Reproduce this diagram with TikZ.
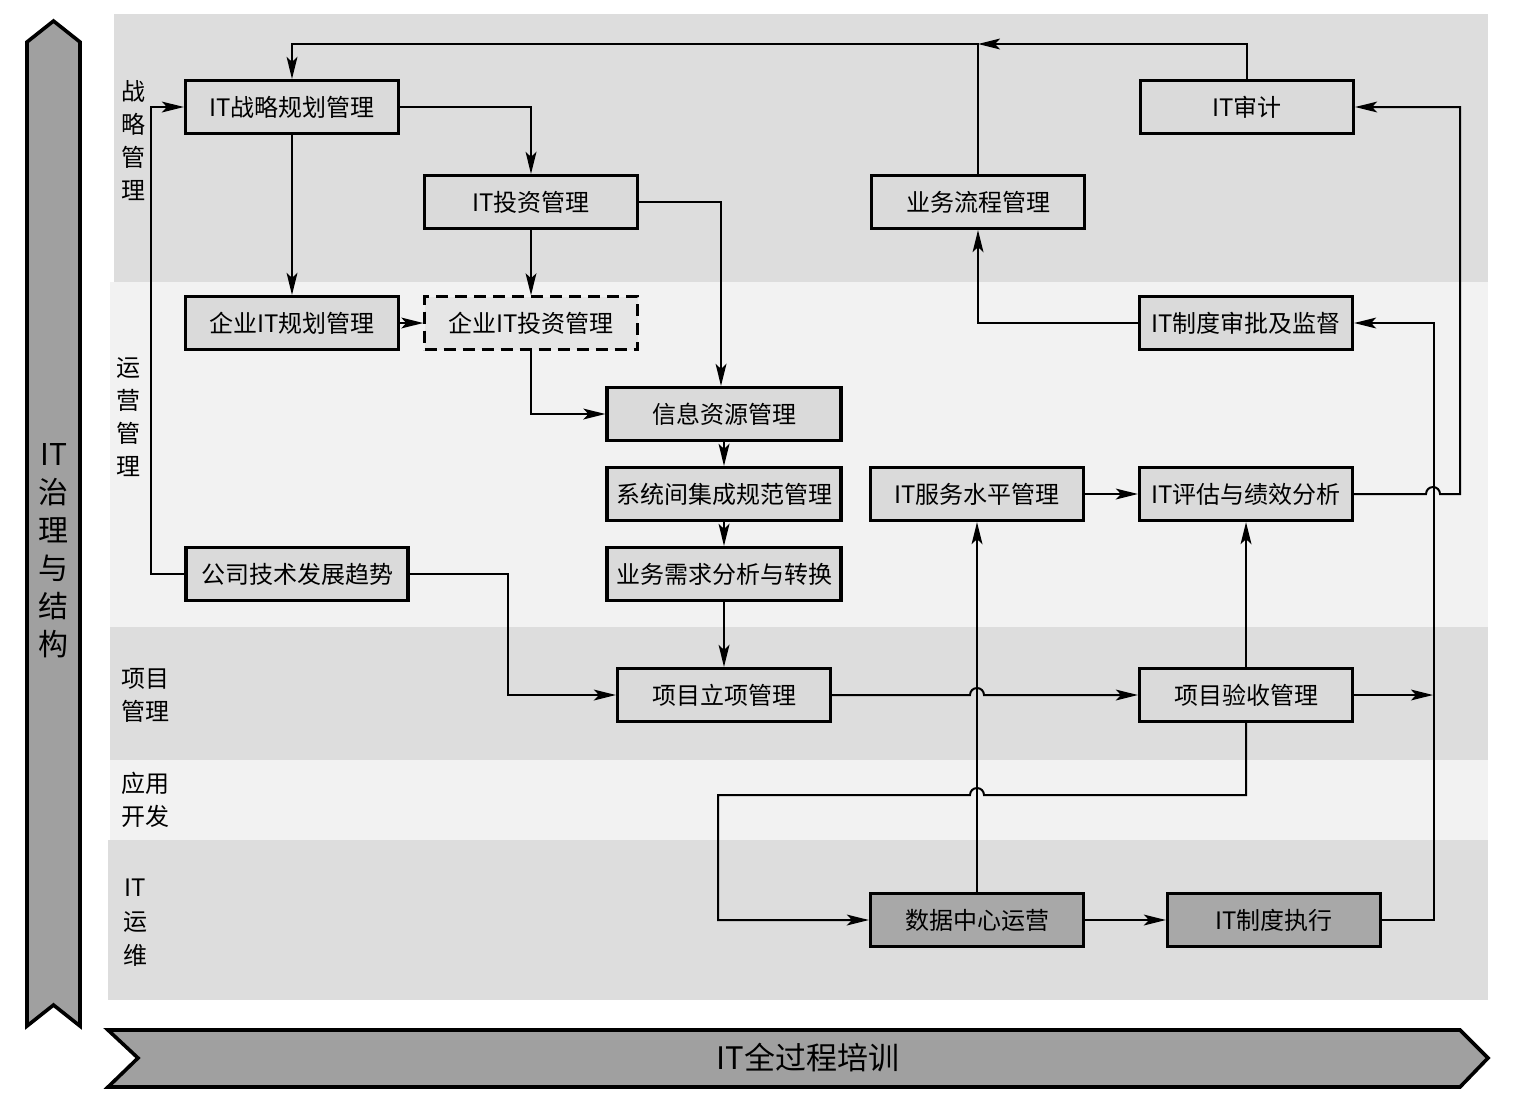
\documentclass[tikz,border=0pt]{standalone}
\usepackage{fontspec}
\setmainfont{Noto Sans CJK SC}
\usetikzlibrary{arrows.meta}

\definecolor{lanedark}{HTML}{DDDDDD}
\definecolor{lanelight}{HTML}{F2F2F2}
\definecolor{boxgray}{HTML}{DADADA}
\definecolor{dashgray}{HTML}{E6E6E6}
\definecolor{opsgray}{HTML}{A8A8A8}
\definecolor{bannergray}{HTML}{A0A0A0}

\begin{document}
\begin{tikzpicture}
	[x=0.5pt,y=-0.5pt,->,>={Stealth[length=11pt,width=5.4pt,inset=2.5pt]},line width=1pt,
		base node/.style={draw,line width=1.6pt,fill=boxgray,minimum width=106.5pt,minimum height=26.5pt,inner sep=0pt,font=\fontsize{12}{14}\selectfont},
		wide node/.style={base node,minimum width=117pt},
		plan node/.style={base node,fill=dashgray,dashed,line width=1.2pt,dash pattern=on 6pt off 3.5pt},
		ops node/.style={base node,fill=opsgray},
		lane label/.style={align=center,inner sep=0pt,font=\fontsize{12}{16.5}\selectfont},
		banner/.style={draw,line width=1.8pt,fill=bannergray}]

	\useasboundingbox (0,0) rectangle (1518,1110);

	% lanes
	\begin{scope}[-]
	\fill[lanedark]  (114,14)  rectangle (1488,282);
	\fill[lanelight] (110,282) rectangle (1488,627);
	\fill[lanedark]  (110,627) rectangle (1488,760);
	\fill[lanelight] (110,760) rectangle (1488,840);
	\fill[lanedark]  (108,840) rectangle (1488,1000);

	\draw[banner] (27,42) -- (53.5,21) -- (80,42) -- (80,1026) -- (53.5,1005) -- (27,1026) -- cycle;
	\draw[banner] (108,1030) -- (1460,1030) -- (1488,1058) -- (1460,1087) -- (108,1087) -- (138,1058) -- cycle;
	\end{scope}

	\node[lane label,font=\fontsize{15}{19}\selectfont] (gov) at (54,551) {IT\\治\\理\\与\\结\\构};
	\node[font=\fontsize{15.5}{18}\selectfont,inner sep=0pt] (train) at (808,1058) {IT全过程培训};

	\node[lane label] (lane1) at (133,141) {战\\略\\管\\理};
	\node[lane label] (lane2) at (128,417) {运\\营\\管\\理};
	\node[lane label] (lane3) at (145,695) {项目\\管理};
	\node[lane label] (lane4) at (145,800) {应用\\开发};
	\node[lane label,font=\fontsize{12}{17}\selectfont] (lane5) at (135,923) {IT\\运\\维};

	\node[base node] (A) at (292,107) {IT战略规划管理};
	\node[base node] (B) at (531,202) {IT投资管理};
	\node[base node] (C) at (292,323) {企业IT规划管理};
	\node[plan node] (D) at (531,323) {企业IT投资管理};
	\node[wide node] (E) at (724,414) {信息资源管理};
	\node[wide node] (F) at (724,494) {系统间集成规范管理};
	\node[wide node] (G) at (724,574) {业务需求分析与转换};
	\node[base node,minimum width=111pt] (H) at (297,574) {公司技术发展趋势};
	\node[base node] (I) at (724,695) {项目立项管理};
	\node[base node] (J) at (978,202) {业务流程管理};
	\node[base node] (K) at (1247,107) {IT审计};
	\node[base node] (L) at (1246,323) {IT制度审批及监督};
	\node[base node] (M) at (977,494) {IT服务水平管理};
	\node[base node] (N) at (1246,494) {IT评估与绩效分析};
	\node[base node] (O) at (1246,695) {项目验收管理};
	\node[ops node] (P) at (977,920) {数据中心运营};
	\node[ops node] (Q) at (1274,920) {IT制度执行};

	\coordinate (jtop) at (978,44);
	\coordinate (rbus) at (1433,695);
	\coordinate (devline) at (718,795);

	\draw (K.north) |- (jtop);
	\draw (J.north) -- (jtop) -| (A.north);
	\draw (A.east) -| (B.north);
	\draw (A.south) -- (C.north);
	\draw (B.south) -- (D.north);
	\draw (C.east) -- (D.west);
	\draw (B.east) -| ([xshift=-1.5pt]E.north);
	\draw (D.south) |- (E.west);
	\draw (E.south) -- (F.north);
	\draw (F.south) -- (G.north);
	\draw (G.south) -- (I.north);
	\draw (H.west) -- ++(-33,0) |- (A.west);
	\draw (H.east) -- ++(98,0) |- (I.west);
	\draw (I.east) -- ([xshift=-3.5pt]P.north |- I.east) arc[start angle=180,end angle=0,radius=3.5pt] -- (O.west);
	\draw (O.east) -- (rbus);
	\draw (Q.east) -- ++(52,0) |- (L.east);
	\draw (N.east) -- ([xshift=-3.5pt]rbus |- N.east) arc[start angle=180,end angle=0,radius=3.5pt] -- ++(20,0) |- (K.east);
	\draw (L.west) -| (J.south);
	\draw (M.east) -- (N.west);
	\draw (O.north) -- (N.south);
	\draw (P.north) -- (M.south);
	\draw (O.south) |- ([xshift=3.5pt]P.north |- devline) arc[start angle=0,end angle=180,radius=3.5pt] -- (devline) |- (P.west);
	\draw (P.east) -- (Q.west);

\end{tikzpicture}
\end{document}
